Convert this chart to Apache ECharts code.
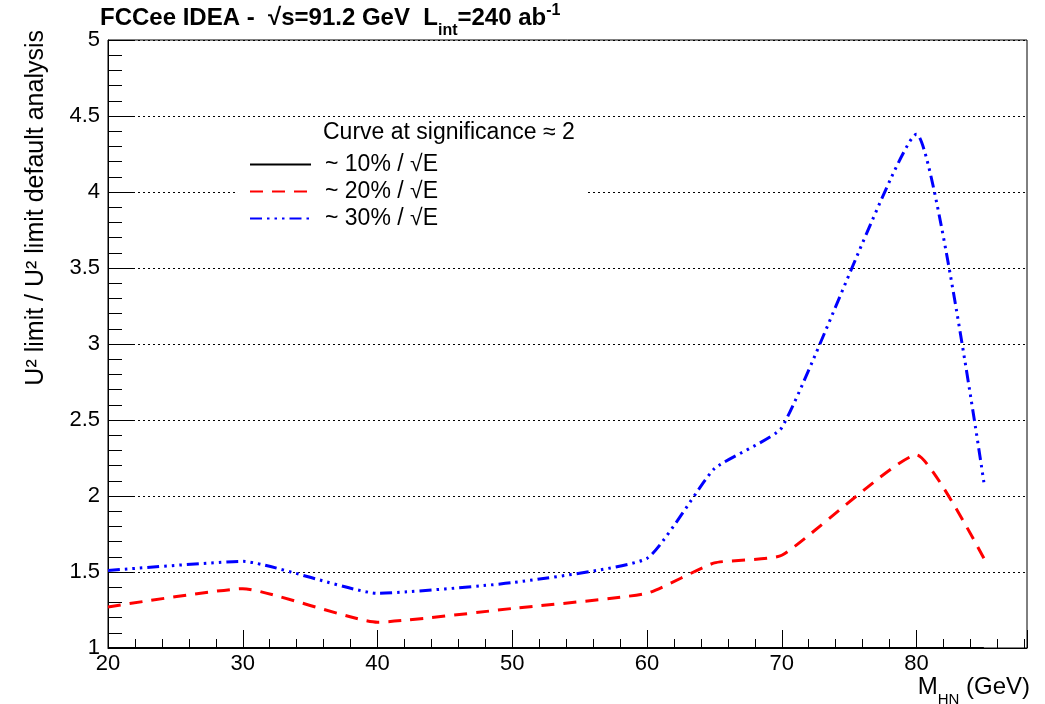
<!DOCTYPE html>
<html>
<head>
<meta charset="utf-8">
<script src="https://cdn.jsdelivr.net/npm/echarts@6/dist/echarts.min.js"></script>
<style>
html,body{margin:0;padding:0;background:#fff;}
#chart{width:1045px;height:704px;}
</style>
</head>
<body>
<div id="chart"></div>
<script>
// Data
var massPoints = [20, 30, 40, 50, 60, 65, 70, 80, 85];
var res10 = [1.0, 1.0, 1.0, 1.0, 1.0, 1.0, 1.0, 1.0, 1.0];
var res20 = [1.27, 1.39, 1.17, 1.26, 1.36, 1.56, 1.61, 2.27, 1.59];
var res30 = [1.51, 1.57, 1.36, 1.43, 1.59, 2.18, 2.45, 4.38, 2.09];
var seriesNames = ['~ 10% / √E', '~ 20% / √E', '~ 30% / √E'];

function pairs(ys) { return massPoints.map(function (x, i) { return [x, ys[i]]; }); }

var FONT = 'Liberation Sans, Arial, Helvetica, sans-serif';
var chart = echarts.init(document.getElementById('chart'), null, {renderer: 'canvas'});

var option = {
  backgroundColor: '#fff',
  animation: false,
  title: [
    {
      left: 100, top: 1, padding: 0,
      text: 'FCCee IDEA -  √s=91.2 GeV  L{sub|int}=240 ab{sup|-1}',
      textStyle: {
        fontFamily: FONT, fontSize: 24, fontWeight: 'bold', color: '#000', lineHeight: 34,
        rich: {
          sub: {fontFamily: FONT, fontSize: 16, fontWeight: 'bold', color: '#000', verticalAlign: 'bottom', lineHeight: 16, padding: [0, 0, -4, 0]},
          sup: {fontFamily: FONT, fontSize: 16, fontWeight: 'bold', color: '#000', verticalAlign: 'top', lineHeight: 16, padding: [2, 0, 0, 0]}
        }
      }
    },
    {
      left: 323, top: 121, padding: 0,
      text: 'Curve at significance ≈ 2',
      textStyle: {fontFamily: FONT, fontSize: 23, fontWeight: 'normal', color: '#000', lineHeight: 24}
    },
    {
      right: 15, top: 673, padding: 0,
      text: 'M{sub|HN} (GeV)',
      textStyle: {
        fontFamily: FONT, fontSize: 24, fontWeight: 'normal', color: '#000', lineHeight: 28,
        rich: {
          sub: {fontFamily: FONT, fontSize: 15, color: '#000', verticalAlign: 'bottom', lineHeight: 15, padding: [0, 0, -6, 0]}
        }
      }
    }
  ],
  graphic: [
    {
      type: 'text',
      x: 36, y: 30,
      rotation: Math.PI / 2,
      style: {
        text: 'U² limit / U² limit default analysis',
        font: '25px ' + FONT,
        fill: '#000',
        align: 'right',
        verticalAlign: 'middle'
      }
    }
  ],
  legend: {
    orient: 'vertical',
    left: 236, top: 120,
    padding: [33, 150, 10, 13],
    backgroundColor: '#fff',
    itemWidth: 61, itemHeight: 14, itemGap: 4,
    itemStyle: {opacity: 0},
    data: seriesNames,
    textStyle: {fontFamily: FONT, fontSize: 23, color: '#000', lineHeight: 14, padding: [0, 0, 0, 9]},
    selectedMode: false
  },
  grid: {
    left: 108, right: 18, top: 40, bottom: 56,
    show: true, borderColor: '#000', borderWidth: 1, containLabel: false
  },
  xAxis: {
    type: 'value', min: 20, max: 88.2, interval: 10,
    axisLine: {lineStyle: {color: '#000', width: 1}},
    axisTick: {inside: true, length: 18, lineStyle: {color: '#000', width: 1}},
    minorTick: {show: true, splitNumber: 5, length: 9, lineStyle: {color: '#000', width: 1}},
    splitLine: {show: false},
    axisLabel: {
      fontFamily: FONT, fontSize: 22, color: '#000', margin: 5,
      showMaxLabel: false,
      formatter: function (v) { return String(v); }
    }
  },
  yAxis: {
    type: 'value', min: 1, max: 5, interval: 0.5,
    axisLine: {show: true, lineStyle: {color: '#000', width: 1}},
    axisTick: {inside: true, length: 27, lineStyle: {color: '#000', width: 1}},
    minorTick: {show: true, splitNumber: 5, length: 14, lineStyle: {color: '#000', width: 1}},
    splitLine: {show: true, lineStyle: {color: '#000', width: 1, type: [2, 3]}},
    axisLabel: {fontFamily: FONT, fontSize: 22, color: '#000', margin: 8}
  },
  series: [
    {
      name: seriesNames[0], type: 'line', data: pairs(res10), smooth: 0.15,
      symbol: 'none', clip: false, z: 3,
      lineStyle: {color: '#000', width: 2, type: 'solid'},
      itemStyle: {color: '#000'}
    },
    {
      name: seriesNames[1], type: 'line', data: pairs(res20), smooth: 0.15,
      symbol: 'none',
      lineStyle: {color: '#ff0000', width: 3, type: [13, 9]},
      itemStyle: {color: '#ff0000'}
    },
    {
      name: seriesNames[2], type: 'line', data: pairs(res30), smooth: 0.15,
      symbol: 'none',
      lineStyle: {color: '#0000ff', width: 3, type: [12, 5, 2.5, 5, 2.5, 5, 2.5, 5]},
      itemStyle: {color: '#0000ff'}
    }
  ]
};
chart.setOption(option);
</script>
</body>
</html>
